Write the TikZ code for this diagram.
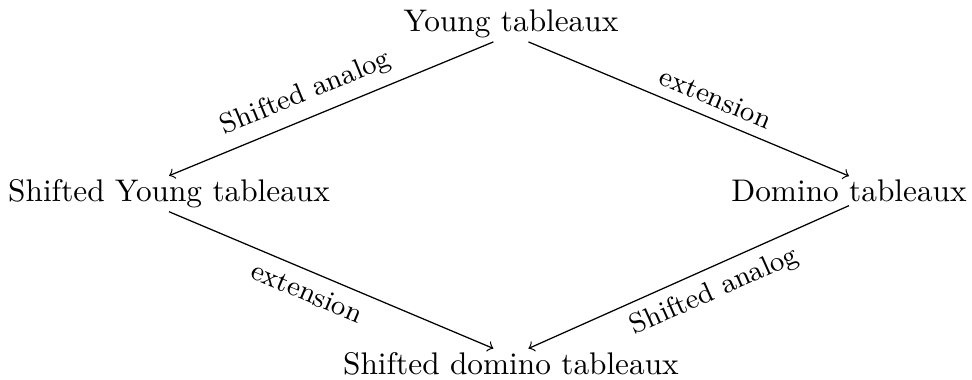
\documentclass[tikz,border=0pt]{standalone}
\usepackage{amsmath}
\usepackage{tikz}

\tikzset{tab/.style={anchor=base, inner sep=1pt},
  lab/.style={sloped, font=\small}}

\begin{document}
\begin{tikzpicture}
\useasboundingbox (0,0) rectangle (10.92,-4.258);
\node[tab] (Y) at (5.74,-0.356) {Young tableaux};
\node[tab] (SY) at (1.899,-2.264) {Shifted Young tableaux};
\node[tab] (D) at (9.538,-2.264) {Domino tableaux};
\node[tab] (SD) at (5.74,-4.205) {Shifted domino tableaux};
\draw[->] ([xshift=-5.6pt]Y.south) -- node[lab, pos=0.55, above] {Shifted analog} (SY.north);
\draw[->] ([xshift=5.6pt]Y.south) -- node[lab, pos=0.56, above] {extension} (D.north);
\draw[->] (SY.south) -- node[lab, pos=0.45, below] {extension} ([xshift=-5.6pt]SD.north);
\draw[->] (D.south) -- node[lab, pos=0.45, below] {Shifted analog} ([xshift=5.6pt]SD.north);
\end{tikzpicture}
\end{document}
